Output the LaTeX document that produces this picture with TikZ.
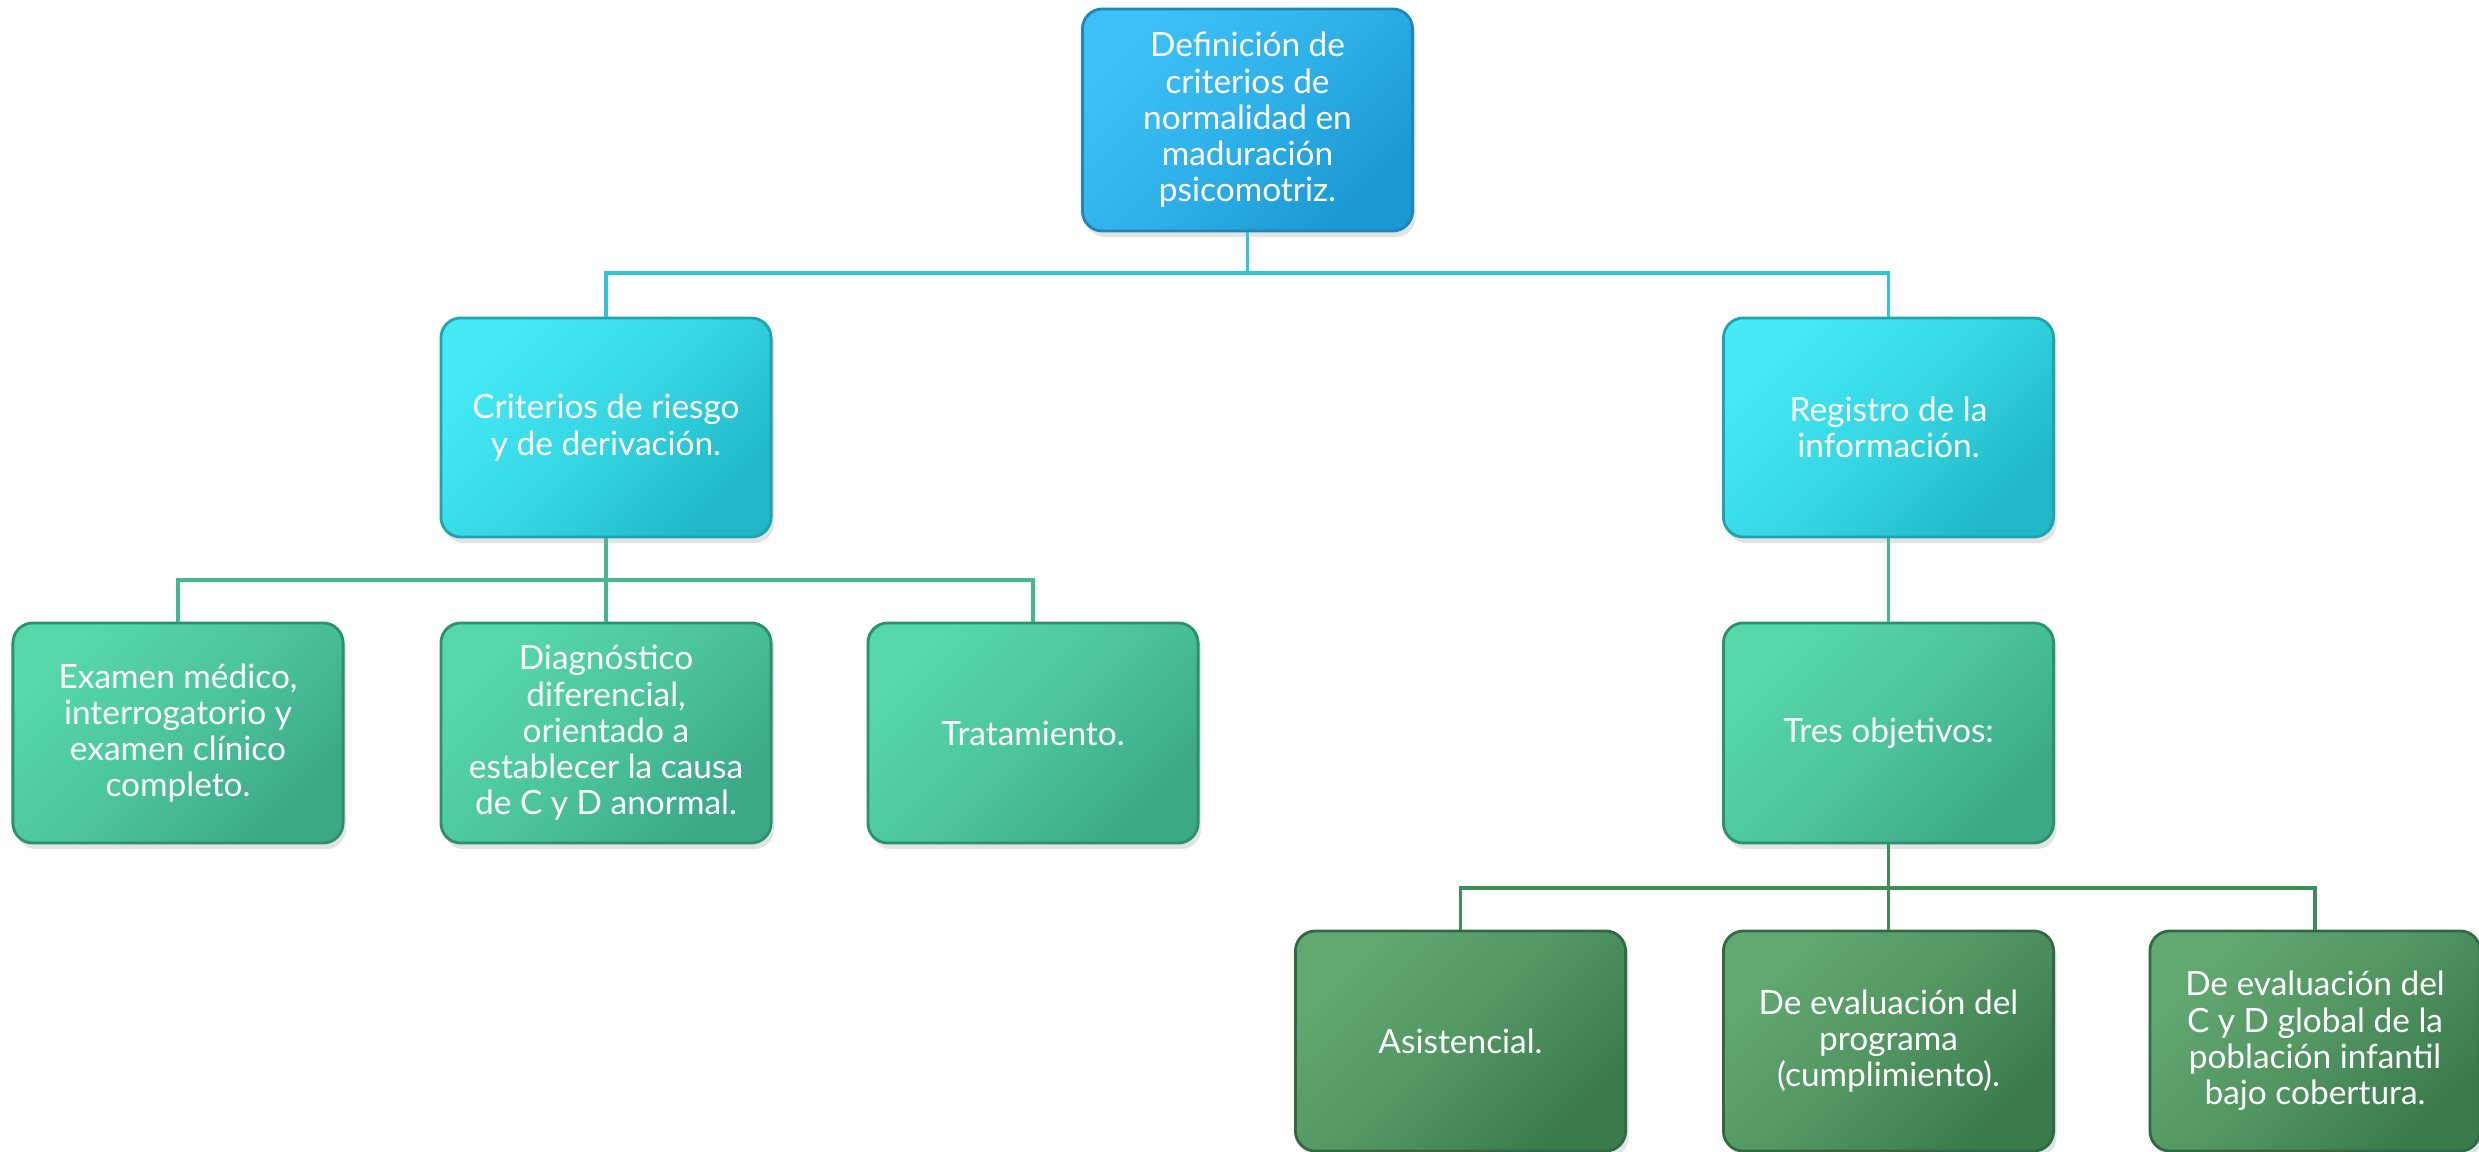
\documentclass[tikz,border=0pt]{standalone}
\usepackage{fontspec}
\setmainfont{Lato}
\usetikzlibrary{shadows}
\definecolor{bAl}{HTML}{3DC0F8}\definecolor{bAd}{HTML}{1A98D2}\definecolor{bAb}{HTML}{1E86BA}
\definecolor{bBl}{HTML}{45EAF6}\definecolor{bBd}{HTML}{20B8C6}\definecolor{bBb}{HTML}{1FA3AF}
\definecolor{bCl}{HTML}{56D8AA}\definecolor{bCd}{HTML}{3CA886}\definecolor{bCb}{HTML}{2A9070}
\definecolor{bDl}{HTML}{62A871}\definecolor{bDd}{HTML}{3A7A4B}\definecolor{bDb}{HTML}{2F6A42}
\definecolor{cA}{HTML}{30C8D0}\definecolor{cB}{HTML}{45B892}\definecolor{cC}{HTML}{3E8E58}
\tikzset{
  box/.style={rounded corners=0.2cm, minimum width=3.3cm, minimum height=2.2cm,
    inner sep=0pt, align=center, text=white, line width=0.8pt,
    font=\fontsize{9.5}{10.3}\selectfont,
    drop shadow={opacity=0.22, shadow xshift=0.03cm, shadow yshift=-0.06cm}},
  lvA/.style={box, draw=bAb, top color=bAl, bottom color=bAd, middle color=bAl!60!bAd, shading angle=45},
  lvB/.style={box, draw=bBb, top color=bBl, bottom color=bBd, middle color=bBl!60!bBd, shading angle=45},
  lvC/.style={box, draw=bCb, top color=bCl, bottom color=bCd, middle color=bCl!60!bCd, shading angle=45},
  lvD/.style={box, draw=bDb, top color=bDl, bottom color=bDd, middle color=bDl!60!bDd, shading angle=45},
  conA/.style={draw=cA, line width=1pt},
  conB/.style={draw=cB, line width=1pt},
  conC/.style={draw=cC, line width=1pt},
}
\begin{document}
\begin{tikzpicture}[x=0.01cm, y=-0.01cm]
\useasboundingbox (0,0) rectangle (2479,1152);
\coordinate (j1) at (1247.5,273);
\coordinate (j2) at (606,580);
\coordinate (j3) at (1888.5,888);
% nodes
\node[lvA, minimum height=2.22cm] (top) at (1247.5,120) {Definición de\\criterios de\\normalidad en\\maduración\\psicomotriz.};
\node[lvB, minimum height=2.19cm] (crit) at (606,427.5) {Criterios de riesgo\\y de derivación.};
\node[lvB, minimum height=2.19cm] (reg) at (1888.5,427.5) {Registro de la\\información.};
\node[lvC] (exam) at (178,733) {Examen médico,\\interrogatorio y\\examen clínico\\completo.};
\node[lvC] (diag) at (606,733) {Diagnóstico\\diferencial,\\orientado a\\establecer la causa\\de C y D anormal.};
\node[lvC] (trat) at (1033,733) {Tratamiento.};
\node[lvC] (tres) at (1888.5,733) {Tres objetivos:};
\node[lvD] (asis) at (1460.5,1041) {Asistencial.};
\node[lvD] (prog) at (1888.5,1041) {De evaluación del\\programa\\(cumplimiento).};
\node[lvD] (glob) at (2315,1041) {De evaluación del\\C y D global de la\\población infantil\\bajo cobertura.};
% connectors
\draw[conA] (top.south) -- (j1);
\draw[conA] (j1) -| (crit.north);
\draw[conA] (j1) -| (reg.north);
\draw[conB] (crit.south) -- (diag.north);
\draw[conB] (j2) -| (exam.north);
\draw[conB] (j2) -| (trat.north);
\draw[conB] (reg.south) -- (tres.north);
\draw[conC] (tres.south) -- (prog.north);
\draw[conC] (j3) -| (asis.north);
\draw[conC] (j3) -| (glob.north);
\end{tikzpicture}
\end{document}
